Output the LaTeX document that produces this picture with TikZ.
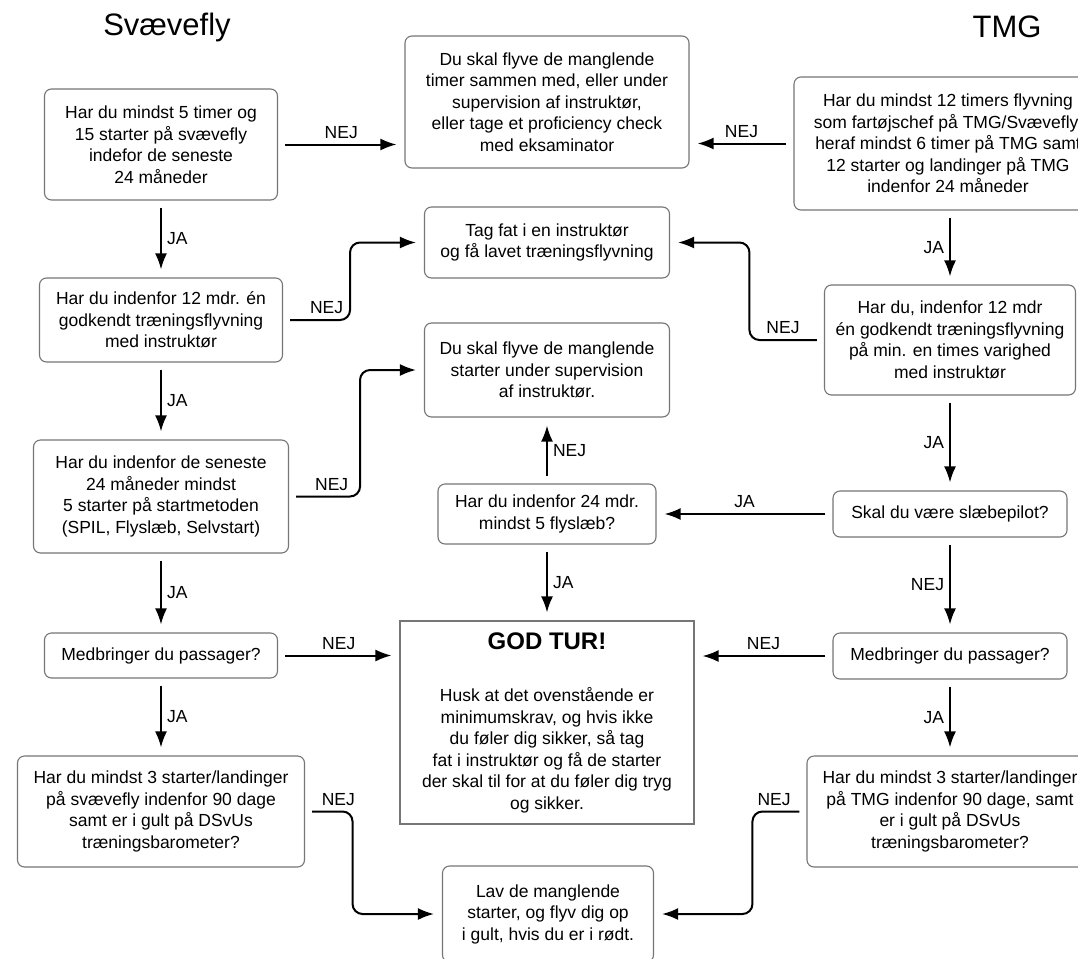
\documentclass[tikz,border=0pt]{standalone}
\usepackage{fontspec}
\setmainfont{Liberation Sans}
\usetikzlibrary{arrows.meta,scopes}
\definecolor{boxEdge}{RGB}{118,118,118}

\begin{document}
\begin{tikzpicture}[x=1pt, y=-1pt]
    \useasboundingbox (0,0) rectangle (1078,958);
    \fill[white] (0,0) rectangle (1078,958);
    \clip (0,0) rectangle (1078,958);
    {[every node/.style={font=\fontsize{31}{36}\selectfont}]
    \node (SV-title) at (167,27) {Svævefly};
    \node (TMG-title) at (1007,27) {TMG};
    }
    {[every node/.style={draw=boxEdge, line width=1.1pt, rounded corners=7pt, align=center, inner sep=0pt, font=\fontsize{17.5}{21.5}\selectfont}]
    % Svævefly column
    \node[minimum width=233pt, minimum height=111pt] (SV1) at (161,144.5) {Har du mindst 5 timer og\\15 starter på svævefly\\indefor de seneste\\24 måneder};
    \node[minimum width=243pt, minimum height=84pt] (SV2) at (161,320) {Har du indenfor 12 mdr. én\\godkendt træningsflyvning\\med instruktør};
    \node[minimum width=255pt, minimum height=113pt] (SV3) at (161,496.5) {Har du indenfor de seneste\\24 måneder mindst\\5 starter på startmetoden\\(SPIL, Flyslæb, Selvstart)};
    \node[minimum width=233pt, minimum height=45pt] (SV4) at (161,655.5) {Medbringer du passager?};
    \node[minimum width=287pt, minimum height=111pt] (SV5) at (161,811.5) {Har du mindst 3 starter/landinger\\på svævefly indenfor 90 dage\\samt er i gult på DSvUs\\træningsbarometer?};
    % middle column
    \node[minimum width=284pt, minimum height=132pt] (MID1) at (547,102) {Du skal flyve de manglende\\timer sammen med, eller under\\supervision af instruktør,\\eller tage et proficiency check\\med eksaminator};
    \node[minimum width=245pt, minimum height=71pt] (MID2) at (547,242.5) {Tag fat i en instruktør\\og få lavet træningsflyvning};
    \node[minimum width=245pt, minimum height=94pt] (MID3) at (547,370) {Du skal flyve de manglende\\starter under supervision\\af instruktør.};
    \node[minimum width=218pt, minimum height=60pt] (MID4) at (547,514) {Har du indenfor 24 mdr.\\mindst 5 flyslæb?};
    \node[sharp corners, minimum width=294pt, minimum height=203pt] (GOD) at (547,722.5) {{\fontsize{24}{28}\selectfont\bfseries GOD TUR!}\\[31pt]Husk at det ovenstående er\\minimumskrav, og hvis ikke\\du føler dig sikker, så tag\\fat i instruktør og få de starter\\der skal til for at du føler dig tryg\\og sikker.};
    \node[minimum width=211pt, minimum height=96pt] (MID5) at (548,914) {Lav de manglende\\starter, og flyv dig op\\i gult, hvis du er i rødt.};
    % TMG column
    \node[minimum width=308pt, minimum height=133pt] (TMG1) at (948,143.5) {Har du mindst 12 timers flyvning\\som fartøjschef på TMG/Svævefly,\\heraf mindst 6 timer på TMG samt\\12 starter og landinger på TMG\\indenfor 24 måneder};
    \node[minimum width=251pt, minimum height=110pt] (TMG2) at (950,340) {Har du, indenfor 12 mdr\\én godkendt træningsflyvning\\på min. en times varighed\\med instruktør};
    \node[minimum width=234pt, minimum height=46pt] (TMG3) at (950,514) {Skal du være slæbepilot?};
    \node[minimum width=234pt, minimum height=46pt] (TMG4) at (950,656) {Medbringer du passager?};
    \node[minimum width=286pt, minimum height=111pt] (TMG5) at (950,811.5) {Har du mindst 3 starter/landinger\\på TMG indenfor 90 dage, samt\\er i gult på DSvUs\\træningsbarometer?};
    }
    {[-{Latex[length=16pt, width=12pt]}, line width=2pt, shorten <=7pt, shorten >=8pt, rounded corners=10pt, every node/.style={font=\fontsize{17.5}{21.5}\selectfont, inner sep=5pt}]
      % Svævefly side
      \draw (SV1.east) -- node[above] {NEJ} (SV1.east -| MID1.west);
      \draw (SV1) -- node[right] {JA} (SV2);
      \draw (SV2.east) -- node[above, pos=0.65] {NEJ} ++(67,0) |- (MID2.west);
      \draw (SV2) -- node[right] {JA} (SV3);
      \draw (SV3.east) -- node[above, pos=0.6] {NEJ} ++(71,0) |- (MID3.west);
      \draw (SV3) -- node[right] {JA} (SV4);
      \draw (SV4.east) -- node[above] {NEJ} (SV4.east -| GOD.west);
      \draw (SV4) -- node[right] {JA} (SV5);
      \draw (SV5.east) -- node[above, pos=0.7] {NEJ} ++(47.5,0) |- (MID5.west);
      % middle
      \draw (MID4) -- node[right] {NEJ} (MID3);
      \draw (MID4) -- node[right] {JA} (GOD);
      % TMG side
      \draw (TMG1.west) -- node[above] {NEJ} (TMG1.west -| MID1.east);
      \draw (TMG1.south -| TMG2.north) -- node[left] {JA} (TMG2.north);
      \draw (TMG2.west) -- node[above, pos=0.55] {NEJ} ++(-74.5,0) |- (MID2.east);
      \draw (TMG2) -- node[left] {JA} (TMG3);
      \draw (TMG3.west) -- node[above] {JA} (TMG3.west -| MID4.east);
      \draw (TMG3) -- node[left] {NEJ} (TMG4);
      \draw (TMG4.west) -- node[above] {NEJ} (TMG4.west -| GOD.east);
      \draw (TMG4) -- node[left] {JA} (TMG5);
      \draw (TMG5.west) -- node[above, pos=0.6] {NEJ} ++(-54,0) |- (MID5.east);
    }
\end{tikzpicture}
\end{document}
